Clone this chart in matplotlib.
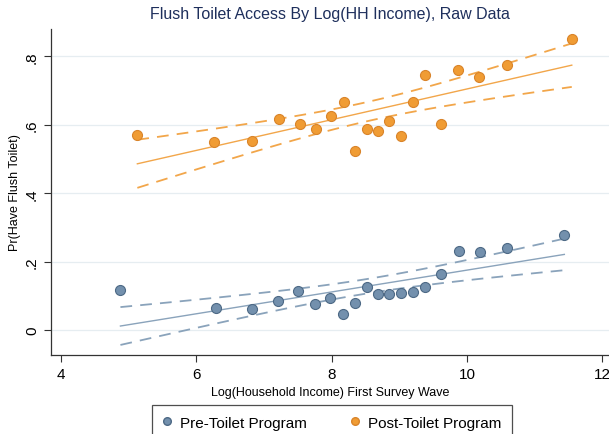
import numpy as np
import matplotlib
matplotlib.use('Agg')
import matplotlib.pyplot as plt
from matplotlib.lines import Line2D

# binned means of flush toilet access by log household income
pre_x = [4.88, 6.29, 6.82, 7.21, 7.51, 7.76, 7.98, 8.17, 8.35, 8.52,
         8.68, 8.85, 9.03, 9.21, 9.38, 9.61, 9.89, 10.20, 10.60, 11.44]
pre_y = [0.118, 0.063, 0.061, 0.085, 0.115, 0.075, 0.093, 0.047, 0.080, 0.127,
         0.104, 0.104, 0.108, 0.110, 0.127, 0.163, 0.231, 0.229, 0.239, 0.278]

post_x = [5.13, 6.26, 6.83, 7.22, 7.53, 7.77, 7.99, 8.18, 8.34, 8.52,
          8.68, 8.85, 9.03, 9.20, 9.38, 9.61, 9.87, 10.18, 10.60, 11.55]
post_y = [0.570, 0.549, 0.552, 0.617, 0.601, 0.589, 0.625, 0.666, 0.522, 0.588,
          0.583, 0.612, 0.566, 0.666, 0.747, 0.601, 0.760, 0.740, 0.775, 0.850]

series_names = ['Pre-Toilet Program', 'Post-Toilet Program']
x_ticks = [4, 6, 8, 10, 12]
y_ticks = [0, 0.2, 0.4, 0.6, 0.8]
y_tick_labels = ['0', '.2', '.4', '.6', '.8']

BLUE = '#7390ad'
BLUE_EDGE = '#4d6985'
BLUE_LINE = '#8aa3bb'
ORANGE = '#f09c34'
ORANGE_EDGE = '#d9842a'
ORANGE_LINE = '#f2a64a'

T_975_18 = 2.101  # two-sided 95% t critical value, 18 dof


def lfitci(x, y, npts=100):
    x = np.asarray(x)
    y = np.asarray(y)
    n = len(x)
    b, a = np.polyfit(x, y, 1)
    resid = y - (a + b * x)
    s = np.sqrt(np.sum(resid ** 2) / (n - 2))
    xbar = x.mean()
    sxx = np.sum((x - xbar) ** 2)
    xs = np.linspace(x.min(), x.max(), npts)
    fit = a + b * xs
    se = s * np.sqrt(1.0 / n + (xs - xbar) ** 2 / sxx)
    return xs, fit, fit - T_975_18 * se, fit + T_975_18 * se


def main():
    plt.rcParams['font.family'] = ['Liberation Sans', 'DejaVu Sans']

    fig = plt.figure(figsize=(6.09, 4.35), dpi=100)
    ax = fig.add_axes([0.0833, 0.1816, 0.9167, 0.7494])

    for xv, yv, fc, ec, lc in [(pre_x, pre_y, BLUE, BLUE_EDGE, BLUE_LINE),
                               (post_x, post_y, ORANGE, ORANGE_EDGE, ORANGE_LINE)]:
        xs, fit, lo, hi = lfitci(xv, yv)
        ax.plot(xs, fit, color=lc, lw=1.0, zorder=2)
        for band in (lo, hi):
            ax.plot(xs, band, color=lc, lw=1.3, dashes=(6.5, 4.5), zorder=2)
        ax.scatter(xv, yv, s=52, color=fc, edgecolors=ec, linewidths=0.8, zorder=3)

    ax.set_xlim(3.85, 12.1)
    ax.set_ylim(-0.073, 0.88)
    ax.set_xticks(x_ticks)
    ax.set_yticks(y_ticks)
    ax.set_yticklabels(y_tick_labels, rotation=90, va='center')
    ax.tick_params(axis='both', labelsize=11, length=5, width=0.8, color='#333333')

    ax.grid(axis='y', color='#e6edf1', lw=0.9)
    ax.set_axisbelow(True)
    for side in ('top', 'right'):
        ax.spines[side].set_visible(False)
    for side in ('left', 'bottom'):
        ax.spines[side].set_color('#333333')
        ax.spines[side].set_linewidth(0.9)

    ax.set_xlabel('Log(Household Income) First Survey Wave', fontsize=9, labelpad=4)
    ax.set_ylabel('Pr(Have Flush Toilet)', fontsize=9, labelpad=3)
    ax.set_title('Flush Toilet Access By Log(HH Income), Raw Data',
                 fontsize=11.5, color='#1e2f5c', pad=8)

    handles = [Line2D([], [], ls='none', marker='o', markersize=5.5,
                      markerfacecolor=BLUE, markeredgecolor=BLUE_EDGE),
               Line2D([], [], ls='none', marker='o', markersize=5.5,
                      markerfacecolor=ORANGE, markeredgecolor=ORANGE_EDGE)]
    leg = fig.legend(handles, series_names, loc='upper center',
                     bbox_to_anchor=(0.545, 1 - 406.0 / 435), ncol=2,
                     fontsize=11, frameon=True, fancybox=False,
                     edgecolor='#222222', handlelength=0.6, handletextpad=0.5,
                     columnspacing=2.9, borderpad=0.7, borderaxespad=0)
    leg.get_frame().set_linewidth(0.9)

    fig.savefig('out.png', dpi=100)


if __name__ == '__main__':
    main()
